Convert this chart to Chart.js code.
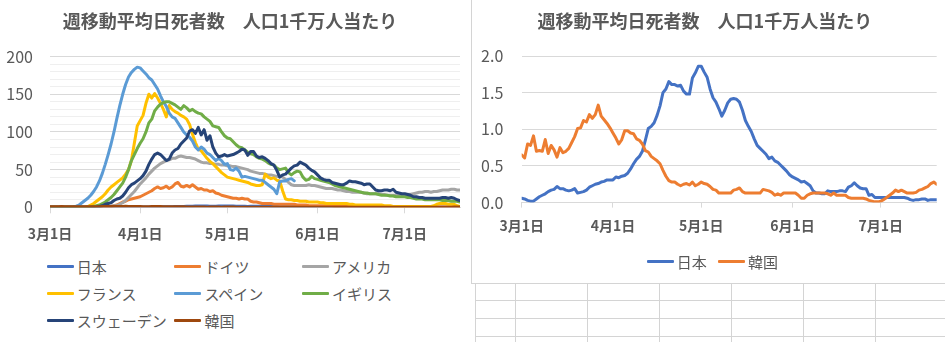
<!DOCTYPE html>
<html lang="ja">
<head>
<meta charset="utf-8">
<script src="https://cdn.jsdelivr.net/npm/chart.js@4.4.1/dist/chart.umd.min.js"></script>
<style>
  html, body { margin: 0; padding: 0; background: #fff; }
  body {
    width: 945px; height: 342px; position: relative; overflow: hidden;
    font-family: "Noto Sans CJK JP", sans-serif;
  }
  canvas { position: absolute; top: 0; }
  #leftChart { left: 0; }
  #rightChart { left: 473px; }
  .frame {
    position: absolute; left: 471px; top: 0; width: 480px; height: 283px;
    border-left: 1px solid #d4d4d4; border-bottom: 1px solid #d4d4d4;
  }
  .cell-v { position: absolute; top: 284px; width: 1px; height: 58px; background: #d4d4d4; }
  .cell-h { position: absolute; left: 475px; width: 470px; height: 1px; background: #d4d4d4; }
  .lg-item {
    position: absolute; display: flex; align-items: center; height: 20px;
    font-size: 15px; color: #595959; white-space: nowrap;
  }
  .lg-line { width: 27px; height: 3px; margin-right: 3px; border-radius: 1px; }
</style>
</head>
<body>
<canvas id="leftChart" width="470" height="250"></canvas>
<canvas id="rightChart" width="472" height="245"></canvas>
<div class="frame"></div>
<div id="sheet"></div>
<div id="leftLegend"></div>
<div id="rightLegend"></div>
<script>
// 日付軸: 3月1日 を 0 日目として 7月20日 (141 日目) まで
const tickLabels = ['3月1日', '4月1日', '5月1日', '6月1日', '7月1日'];
const tickDays = [0, 31, 61, 92, 122];
const lastDay = 141;

const titleText = '週移動平均日死者数　人口1千万人当たり';

// 人口1千万人当たりの日死者数 (7日移動平均)
const japan = [
  0.06, 0.05, 0.03, 0.02, 0.02, 0.05, 0.08, 0.10, 0.12, 0.15,
  0.17, 0.18, 0.22, 0.19, 0.19, 0.17, 0.16, 0.17, 0.19, 0.13,
  0.14, 0.15, 0.17, 0.21, 0.23, 0.25, 0.26, 0.28, 0.29, 0.31,
  0.31, 0.31, 0.35, 0.34, 0.36, 0.37, 0.40, 0.46, 0.53, 0.59,
  0.63, 0.70, 0.85, 1.01, 1.04, 1.09, 1.19, 1.32, 1.50, 1.55,
  1.65, 1.61, 1.61, 1.59, 1.60, 1.52, 1.48, 1.48, 1.70, 1.77,
  1.86, 1.86, 1.78, 1.71, 1.55, 1.43, 1.37, 1.28, 1.18, 1.26,
  1.36, 1.41, 1.42, 1.41, 1.37, 1.26, 1.12, 1.04, 0.97, 0.87,
  0.78, 0.74, 0.70, 0.66, 0.60, 0.62, 0.57, 0.55, 0.51, 0.47,
  0.43, 0.38, 0.35, 0.33, 0.31, 0.28, 0.29, 0.26, 0.23, 0.16,
  0.13, 0.13, 0.12, 0.12, 0.16, 0.15, 0.15, 0.15, 0.16, 0.16,
  0.15, 0.21, 0.23, 0.27, 0.23, 0.20, 0.19, 0.19, 0.10, 0.11,
  0.07, 0.07, 0.07, 0.07, 0.07, 0.07, 0.07, 0.07, 0.07, 0.07,
  0.07, 0.06, 0.04, 0.03, 0.04, 0.04, 0.05, 0.05, 0.03, 0.04,
  0.04, 0.04
];
const germany = [
  0, 0, 0, 0, 0, 0, 0, 0, 0, 0,
  0, 0, 0, 0, 0, 0, 0, 0, 0, 0,
  0.5, 1, 2, 3, 5, 7, 8, 10, 11, 12,
  13, 14, 16, 18, 20, 22, 25, 27, 25, 26,
  28, 25, 27, 31, 33, 28, 27, 29, 27, 30,
  27, 24, 25, 23, 23, 21, 22, 19, 18, 16,
  15, 14, 13, 12, 12, 11, 12, 11, 11, 8,
  7, 7, 6, 5, 5, 5, 5, 4, 4, 4,
  4, 4, 4, 4, 4, 3, 3, 3, 3, 2,
  2, 2, 2, 2, 2, 2, 2, 2, 1, 1,
  1, 1, 1, 1, 1, 1, 1, 1, 1, 1,
  1, 1, 1, 1, 1, 1, 1, 1, 0.5, 0.5,
  0.5, 0.5, 0.5, 0.5, 0.5, 0.5, 0.5, 0.5, 0.5, 0.5,
  0.5, 0.5, 0.5, 0.5, 0.5, 0.5, 0.5, 0.5, 0.5, 0.5,
  0.5, 0.5
];
const usa = [
  0, 0, 0, 0, 0, 0, 0, 0, 0, 0,
  0, 0, 0, 0, 0, 0, 0, 0, 0, 0,
  1, 1, 2, 2, 4, 6, 9, 13, 17, 21,
  26, 31, 35, 39, 44, 48, 52, 55, 58, 60,
  62, 63, 65, 65, 67, 68, 67, 66, 66, 65,
  64, 62, 60, 59, 59, 58, 58, 57, 57, 56,
  56, 55, 55, 54, 54, 53, 52, 51, 50, 48,
  47, 46, 45, 45, 44, 43, 43, 42, 41, 41,
  40, 37, 33, 30, 29, 29, 29, 29, 29, 30,
  29, 29, 28, 27, 26, 25, 25, 25, 24, 23,
  23, 22, 21, 21, 20, 20, 20, 20, 19, 18,
  18, 18, 18, 18, 17, 17, 16, 16, 16, 16,
  16, 16, 17, 17, 17, 18, 19, 20, 20, 21,
  21, 20, 21, 21, 22, 23, 23, 23, 24, 24,
  23, 23
];
const france = [
  0, 0, 0, 0, 0, 0, 0, 0, 0, 0,
  0, 0, 0, 1, 3, 5, 8, 11, 14, 18,
  23, 27, 30, 33, 36, 39, 44, 50, 62, 85,
  108, 115, 122, 138, 150, 145, 151, 145, 138, 130,
  120, 135, 130, 127, 125, 122, 120, 117, 110, 97,
  86, 77, 75, 70, 65, 61, 58, 54, 50, 46,
  43, 40, 39, 38, 37, 36, 35, 34, 33, 31,
  30, 29, 29, 30, 44, 40, 38, 39, 36, 35,
  22, 11, 10, 10, 9, 9, 8, 8, 8, 7,
  7, 7, 7, 6, 6, 5, 5, 5, 5, 5,
  5, 5, 5, 4, 4, 3, 3, 3, 3, 3,
  3, 3, 3, 3, 3, 2, 2, 2, 1, 1,
  1, 1, 1, 1, 1, 1, 1, 1, 1, 1,
  1, 1, 2, 4, 5, 5, 5, 4, 4, 4,
  2, 1
];
// スペインは 5月24日 までのデータ
const spain = [
  0, 0, 0, 0, 0, 0, 0, 0, 0.5, 1.5,
  3, 6, 9, 12, 16, 21, 27, 35, 45, 57,
  70, 84, 100, 118, 135, 150, 163, 173, 179, 183,
  186, 185, 181, 177, 172, 169, 163, 157, 148, 140,
  134, 125, 120, 118, 112, 106, 100, 96, 93, 88,
  80, 76, 80, 77, 72, 70, 66, 62, 65, 62,
  57, 58, 50, 49, 52, 48, 40, 41, 40, 39,
  38, 37, 36, 36, 33, 30, 27, 24, 18, 34,
  35, 35, 37, 38, 35
];
const uk = [
  0, 0, 0, 0, 0, 0, 0, 0, 0, 0,
  0, 0, 0, 0, 0.5, 1, 2, 3, 5, 7,
  10, 13, 17, 22, 27, 32, 40, 50, 62, 70,
  78, 85, 91, 100, 112, 117, 128, 133, 137, 139,
  140, 140, 138, 136, 133, 130, 135, 132, 128, 130,
  127, 125, 124, 120, 117, 114, 108, 107, 106, 100,
  95, 92, 91, 87, 83, 80, 79, 76, 73, 71,
  70, 67, 65, 64, 62, 59, 57, 56, 52, 50,
  51, 52, 46, 43, 46, 48, 47, 40, 36, 37,
  41, 38, 37, 36, 35, 34, 33, 31, 29, 28,
  27, 26, 25, 24, 23, 22, 21, 20, 19, 19,
  18, 18, 18, 17, 16, 16, 16, 15, 15, 14,
  14, 14, 14, 13, 13, 12, 11, 11, 11, 10,
  10, 10, 10, 10, 10, 9, 9, 9, 8, 8,
  8, 7
];
const sweden = [
  0, 0, 0, 0, 0, 0, 0, 0, 0, 0,
  0, 0, 0, 0, 0, 0, 0, 1, 2, 4,
  5, 6, 9, 11, 12, 15, 20, 26, 30, 32,
  35, 38, 42, 48, 57, 64, 70, 72, 70, 66,
  62, 64, 72, 76, 78, 84, 88, 92, 101, 103,
  98, 106, 96, 103, 89, 95, 80, 72, 67, 68,
  70, 68, 69, 70, 72, 74, 77, 76, 69, 74,
  74, 68, 66, 67, 65, 62, 58, 56, 49, 40,
  43, 44, 48, 52, 55, 56, 60, 58, 56, 52,
  49, 47, 43, 39, 37, 36, 36, 33, 32, 31,
  30, 30, 32, 35, 34, 34, 33, 32, 30, 31,
  31, 27, 23, 22, 22, 23, 23, 22, 24, 20,
  19, 18, 18, 17, 16, 14, 14, 13, 13, 12,
  12, 12, 12, 12, 12, 13, 13, 12, 13, 12,
  10, 9
];
const korea = [
  0.65, 0.61, 0.80, 0.78, 0.91, 0.70, 0.71, 0.70, 0.86, 0.67,
  0.78, 0.72, 0.62, 0.75, 0.68, 0.70, 0.74, 0.82, 0.90, 1.01,
  1.02, 1.12, 1.10, 1.20, 1.15, 1.20, 1.33, 1.18, 1.13, 1.08,
  1.02, 0.95, 0.88, 0.80, 0.86, 0.98, 0.98, 0.95, 0.94, 0.87,
  0.85, 0.80, 0.71, 0.69, 0.63, 0.60, 0.57, 0.53, 0.44, 0.36,
  0.30, 0.28, 0.28, 0.25, 0.23, 0.25, 0.26, 0.24, 0.28, 0.23,
  0.25, 0.28, 0.26, 0.25, 0.22, 0.18, 0.17, 0.13, 0.13, 0.13,
  0.13, 0.13, 0.17, 0.18, 0.20, 0.15, 0.13, 0.13, 0.13, 0.13,
  0.13, 0.13, 0.18, 0.17, 0.16, 0.14, 0.10, 0.12, 0.10, 0.13,
  0.13, 0.13, 0.13, 0.13, 0.10, 0.06, 0.06, 0.10, 0.12, 0.13,
  0.13, 0.13, 0.13, 0.13, 0.12, 0.10, 0.13, 0.10, 0.10, 0.10,
  0.10, 0.07, 0.06, 0.06, 0.06, 0.06, 0.06, 0.05, 0.03, 0.02,
  0.01, 0.01, 0.02, 0.04, 0.07, 0.10, 0.13, 0.17, 0.15, 0.17,
  0.15, 0.13, 0.13, 0.13, 0.14, 0.17, 0.18, 0.20, 0.22, 0.26,
  0.28, 0.25
];

const worldNames = ['日本', 'ドイツ', 'アメリカ', 'フランス', 'スペイン', 'イギリス', 'スウェーデン', '韓国'];
const worldSeries = [japan, germany, usa, france, spain, uk, sweden, korea];
const worldColors = ['#4472C4', '#ED7D31', '#A5A5A5', '#FFC000', '#5B9BD5', '#70AD47', '#264478', '#9E480E'];

const asiaNames = ['日本', '韓国'];
const asiaSeries = [japan, korea];
const asiaColors = ['#4472C4', '#ED7D31'];

const textColor = '#595959';
Chart.defaults.font.family = '"Noto Sans CJK JP", sans-serif';

// 系列は後のものほど上に描く (order が小さいほど手前)
function makeDatasets(names, series, colors) {
  return names.map((name, k) => ({
    label: name,
    data: series[k].map((v, i) => ({ x: i, y: v })),
    borderColor: colors[k],
    backgroundColor: colors[k],
    borderWidth: 3,
    pointRadius: 0,
    tension: 0,
    borderJoinStyle: 'round',
    borderCapStyle: 'round',
    order: names.length - k,
  }));
}

function makeOptions(o) {
  return {
    responsive: false,
    animation: false,
    layout: { padding: { left: 0, right: o.padRight, top: 0, bottom: 0 } },
    plugins: {
      legend: { display: false },
      tooltip: { enabled: false },
      title: {
        display: true,
        text: titleText,
        color: textColor,
        font: { size: 18, weight: 'bold' },
        padding: { top: 10, bottom: o.titleGap },
      },
    },
    scales: {
      x: {
        type: 'linear',
        min: 0,
        max: lastDay,
        afterBuildTicks: (scale) => { scale.ticks = tickDays.map((d) => ({ value: d })); },
        afterFit: (scale) => { scale.height = o.xHeight; },
        ticks: {
          callback: (value, index) => tickLabels[index],
          color: textColor,
          font: { size: 14, weight: 'bold' },
          padding: o.xPad,
          maxRotation: 0,
          autoSkip: false,
        },
        grid: { drawOnChartArea: false, tickLength: o.tickLen, color: '#d9d9d9' },
        border: { color: '#d9d9d9' },
      },
      y: {
        min: 0,
        max: o.yMax,
        afterBuildTicks: (scale) => { scale.ticks = o.yTicks.map((v) => ({ value: v })); },
        afterFit: (scale) => { scale.width = o.yWidth; },
        ticks: {
          autoSkip: false,
          callback: o.yLabel,
          color: textColor,
          font: { size: 16 },
          padding: o.yPad,
        },
        grid: { drawTicks: false, color: o.gridColor },
        border: { display: false },
      },
    },
  };
}

// 左: 10 刻みの補助目盛り、50 刻みで数値表示
const worldTicks = [0, 10, 20, 30, 40, 50, 60, 70, 80, 90, 100,
  110, 120, 130, 140, 150, 160, 170, 180, 190, 200];
const asiaTicks = [0, 0.5, 1.0, 1.5, 2.0];

new Chart(document.getElementById('leftChart'), {
  type: 'line',
  data: { datasets: makeDatasets(worldNames, worldSeries, worldColors) },
  options: makeOptions({
    padRight: 10, titleGap: 25, xHeight: 42.7, xPad: 12, tickLen: 6,
    yMax: 200, yWidth: 50, yPad: 17, yTicks: worldTicks,
    yLabel: (v) => (v % 50 === 0 ? String(v) : ''),
    gridColor: (ctx) => (ctx.tick && ctx.tick.value % 50 === 0 ? '#d9d9d9' : '#efefef'),
  }),
});

new Chart(document.getElementById('rightChart'), {
  type: 'line',
  data: { datasets: makeDatasets(asiaNames, asiaSeries, asiaColors) },
  options: makeOptions({
    padRight: 8.3, titleGap: 24.4, xHeight: 42.4, xPad: 10, tickLen: 5,
    yMax: 2, yWidth: 48.7, yPad: 18.4, yTicks: asiaTicks,
    yLabel: (v) => v.toFixed(1),
    gridColor: '#d9d9d9',
  }),
});

// 凡例 (Excel 風の列揃え)
function buildLegend(id, names, colors, left, top, colStep, rowStep, perRow) {
  const box = document.getElementById(id);
  names.forEach((name, k) => {
    const item = document.createElement('div');
    item.className = 'lg-item';
    item.style.left = (left + (k % perRow) * colStep) + 'px';
    item.style.top = (top + Math.floor(k / perRow) * rowStep) + 'px';
    const line = document.createElement('span');
    line.className = 'lg-line';
    line.style.background = colors[k];
    const label = document.createElement('span');
    label.textContent = name;
    item.appendChild(line);
    item.appendChild(label);
    box.appendChild(item);
  });
}
buildLegend('leftLegend', worldNames, worldColors, 46.7, 256.7, 127.7, 27, 3);
buildLegend('rightLegend', asiaNames, asiaColors, 646.7, 251, 71.3, 0, 2);

// 右下のワークシートのセル罫線
const sheet = document.getElementById('sheet');
[475, 515, 587, 659, 731, 803, 875].forEach((x) => {
  const v = document.createElement('div');
  v.className = 'cell-v';
  v.style.left = x + 'px';
  sheet.appendChild(v);
});
[300, 318, 336].forEach((y) => {
  const h = document.createElement('div');
  h.className = 'cell-h';
  h.style.top = y + 'px';
  sheet.appendChild(h);
});
</script>
</body>
</html>
